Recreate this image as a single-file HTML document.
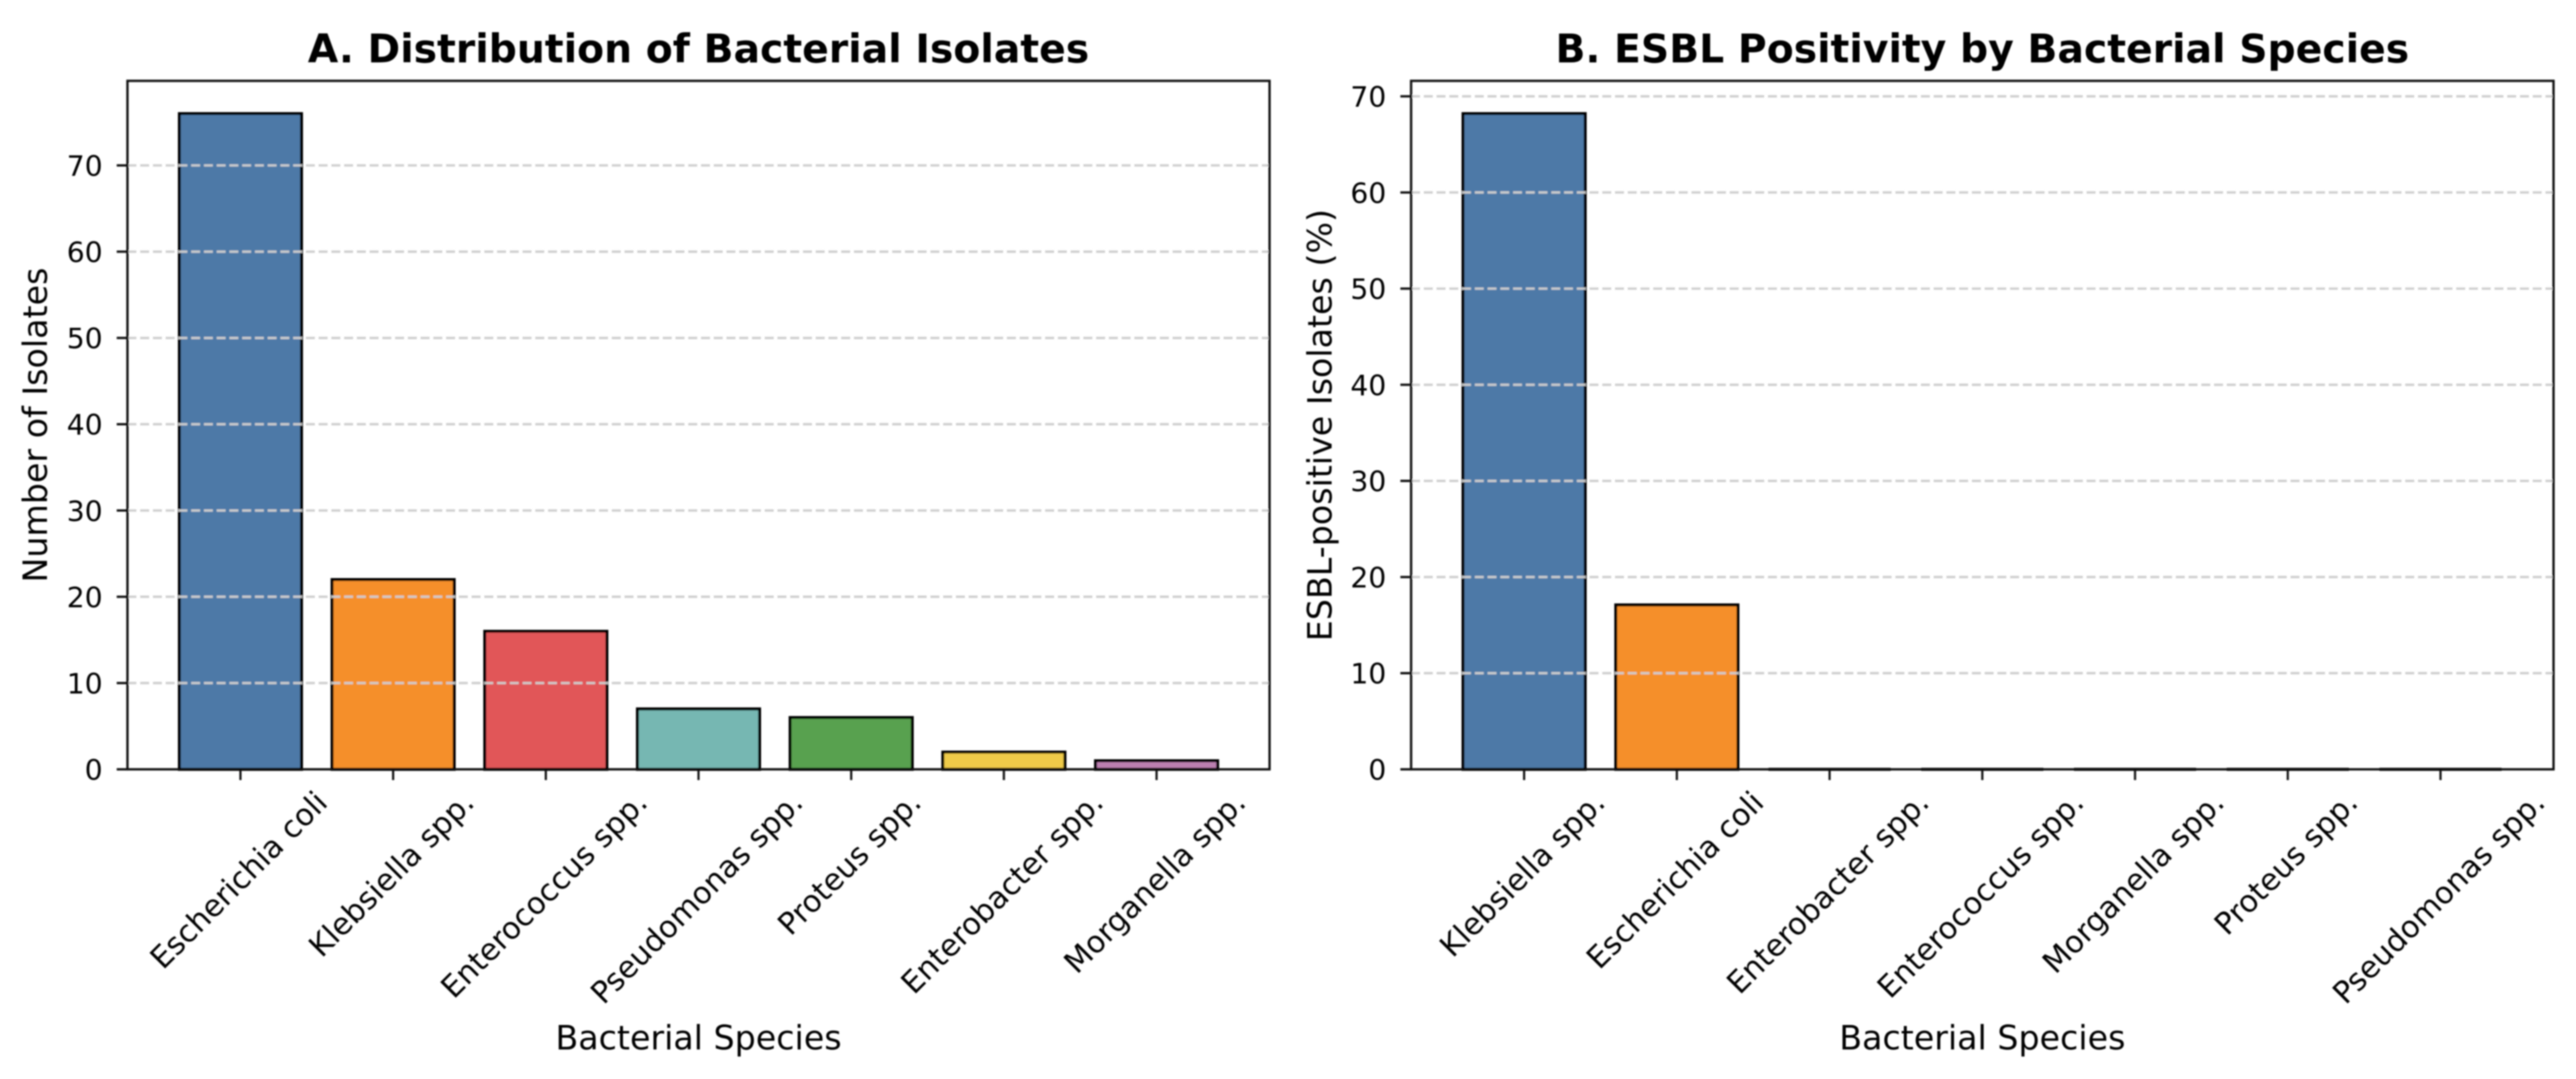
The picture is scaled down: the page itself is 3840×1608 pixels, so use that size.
<!DOCTYPE html>
<html lang="en">
<head>
<meta charset="utf-8">
<title>Bacterial Isolates and ESBL Positivity</title>
<style>
  html, body { margin: 0; padding: 0; background: #ffffff; }
  body { width: 3840px; height: 1608px; overflow: hidden; }
  svg { display: block; }
  text { font-family: "DejaVu Sans", "Liberation Sans", sans-serif; fill: #000000; }
</style>
</head>
<body>
<svg id="figure" xmlns="http://www.w3.org/2000/svg" width="3840" height="1608" viewBox="0 0 3840 1608">
  <defs>
    <filter id="soften" x="0" y="0" width="3840" height="1608" filterUnits="userSpaceOnUse">
      <feGaussianBlur stdDeviation="1.0"/>
    </filter>
  </defs>
  <rect x="0" y="0" width="3840" height="1608" fill="#ffffff"/>
  <g id="root" filter="url(#soften)"></g>
</svg>
<script>
const categoriesA = ['Escherichia coli', 'Klebsiella spp.', 'Enterococcus spp.', 'Pseudomonas spp.', 'Proteus spp.', 'Enterobacter spp.', 'Morganella spp.'];
const valuesA = [76, 22, 16, 7, 6, 2, 1];
const yTicksA = [0, 10, 20, 30, 40, 50, 60, 70];

const categoriesB = ['Klebsiella spp.', 'Escherichia coli', 'Enterobacter spp.', 'Enterococcus spp.', 'Morganella spp.', 'Proteus spp.', 'Pseudomonas spp.'];
const valuesB = [68.2, 17.1, 0, 0, 0, 0, 0];
const yTicksB = [0, 10, 20, 30, 40, 50, 60, 70];

const barColors = ['#4e79a7', '#f58f2b', '#e15759', '#76b7b2', '#59a14f', '#efcb48', '#bc7fb0'];

const SVG_NS = 'http://www.w3.org/2000/svg';
const root = document.getElementById('root');

function make(parent, tag, attrs, text) {
  const el = document.createElementNS(SVG_NS, tag);
  for (const key in attrs) el.setAttribute(key, attrs[key]);
  if (text !== undefined) el.textContent = text;
  parent.appendChild(el);
  return el;
}

function drawPanel(panel) {
  const { key, box, title, yLabel, yLabelX, categories, values, yTicks } = panel;

  // Axis limits follow matplotlib's bar-chart margins.
  const n = categories.length;
  const xMin = -0.4 - 0.05 * (n - 1 + 0.8);
  const xMax = n - 1 + 0.4 + 0.05 * (n - 1 + 0.8);
  const yMax = Math.max.apply(null, values) * 1.05;

  const xScale = function (i) { return box.left + (i - xMin) / (xMax - xMin) * (box.right - box.left); };
  const yScale = function (v) { return box.bottom - v / yMax * (box.bottom - box.top); };

  const group = make(root, 'g', {});
  
  

  const cx = (box.left + box.right) / 2;
  const cy = (box.top + box.bottom) / 2;

  // Bars (paths, so zero-height bars still draw their edge)
  const barHalf = 0.4;
  categories.forEach(function (cat, i) {
    const x0 = xScale(i - barHalf);
    const x1 = xScale(i + barHalf);
    const y0 = yScale(values[i]);
    const bar = make(group, 'path', {
      d: 'M' + x0 + ' ' + box.bottom + 'V' + y0 + 'H' + x1 + 'V' + box.bottom + 'Z',
      fill: barColors[i], stroke: '#000000', 'stroke-width': 4.4
    });
    
    
  });

  // Grid lines and y ticks
  yTicks.forEach(function (t) {
    const y = yScale(t);
    if (t !== 0) {
      const grid = make(group, 'line', {
        x1: box.left, x2: box.right, y1: y, y2: y,
        stroke: '#cdcdcd', 'stroke-opacity': 0.95, 'stroke-width': 3.6, 'stroke-dasharray': '13.3 5.7'
      });
      
      
    }
    const tick = make(group, 'line', {
      x1: box.left - 16, x2: box.left, y1: y, y2: y,
      stroke: '#111111', 'stroke-width': 3.4
    });
    
    
    const label = make(group, 'text', {
      x: box.left - 37, y: y + 15.5, 'text-anchor': 'end', 'font-size': 42
    }, String(t));
    
    
  });

  // X ticks and rotated labels (centred on the tick, like matplotlib rotation=45)
  categories.forEach(function (cat, i) {
    const x = xScale(i);
    const tick = make(group, 'line', {
      x1: x, x2: x, y1: box.bottom, y2: box.bottom + 16,
      stroke: '#111111', 'stroke-width': 3.2
    });
    
    
    const label = make(group, 'text', { x: x, y: 0, 'text-anchor': 'middle', 'font-size': 45.2 }, cat);
    
    
    const width = label.getComputedTextLength();
    const boxH = 45;
    const centerY = box.bottom + 28 + (width + boxH) * Math.SQRT1_2 / 2;
    label.setAttribute('y', centerY + 11.8);
    label.setAttribute('transform', 'rotate(-45 ' + x + ' ' + centerY + ')');
  });

  // Frame
  const frame = make(group, 'rect', {
    x: box.left, y: box.top, width: box.right - box.left, height: box.bottom - box.top,
    fill: 'none', stroke: '#111111', 'stroke-width': 3.4
  });
  
  

  // Titles
  const titleEl = make(group, 'text', {
    x: cx, y: 93, 'text-anchor': 'middle', 'font-size': 58.6, 'font-weight': 'bold'
  }, title);
  
  

  const xTitle = make(group, 'text', {
    x: cx, y: 1564, 'text-anchor': 'middle', 'font-size': 49.6
  }, 'Bacterial Species');
  
  

  const yTitle = make(group, 'text', {
    x: yLabelX, y: cy, 'text-anchor': 'middle', 'font-size': 49.6,
    transform: 'rotate(-90 ' + yLabelX + ' ' + cy + ')'
  }, yLabel);
  
  
}

drawPanel({
  key: 'panel-a',
  box: { left: 190, right: 1892.5, top: 120.5, bottom: 1146.5 },
  title: 'A. Distribution of Bacterial Isolates',
  yLabel: 'Number of Isolates',
  yLabelX: 70,
  categories: categoriesA,
  values: valuesA,
  yTicks: yTicksA
});

drawPanel({
  key: 'panel-b',
  box: { left: 2103.5, right: 3806.5, top: 120.5, bottom: 1146.5 },
  title: 'B. ESBL Positivity by Bacterial Species',
  yLabel: 'ESBL-positive Isolates (%)',
  yLabelX: 1985,
  categories: categoriesB,
  values: valuesB,
  yTicks: yTicksB
});
</script>
</body>
</html>
